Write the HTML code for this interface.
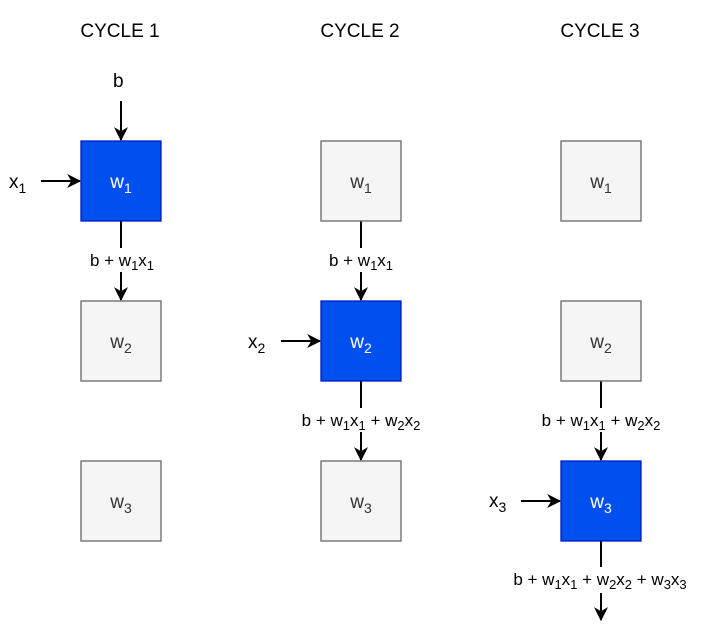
<!DOCTYPE html>
<html><head><meta charset="utf-8"><style>
html,body{margin:0;padding:0;background:#fff}
svg{display:block;font-family:"Liberation Sans",Arial,sans-serif}
</style></head><body>
<svg width="716" height="638" viewBox="0 0 716 638" xmlns="http://www.w3.org/2000/svg">
<defs>
<marker id="a" markerWidth="10" markerHeight="10" refX="9" refY="5" orient="auto" markerUnits="userSpaceOnUse">
<path d="M0,0 L10,5 L0,10 L3,5 Z" fill="#000"/>
</marker>
<marker id="ah" viewBox="0 0 12 12" markerWidth="14" markerHeight="14" refX="11" refY="6" orient="auto" markerUnits="userSpaceOnUse">
<path d="M0,0 L12,6 L0,12 L3.5,6 Z" fill="#000"/>
</marker>
</defs>
<g font-size="19" text-anchor="middle" fill="#000">
<text x="120" y="37">CYCLE 1</text>
<text x="360" y="37">CYCLE 2</text>
<text x="600" y="37">CYCLE 3</text>
</g>
<g stroke="#000" stroke-width="2" fill="none">
<!-- col1 -->
<line x1="121" y1="101" x2="121" y2="140" marker-end="url(#ah)"/>
<line x1="41" y1="181" x2="80" y2="181" marker-end="url(#ah)"/>
<line x1="121" y1="221" x2="121" y2="300" marker-end="url(#ah)"/>
<!-- col2 -->
<line x1="361" y1="221" x2="361" y2="300" marker-end="url(#ah)"/>
<line x1="281" y1="341" x2="320" y2="341" marker-end="url(#ah)"/>
<line x1="361" y1="381" x2="361" y2="460" marker-end="url(#ah)"/>
<!-- col3 -->
<line x1="601" y1="381" x2="601" y2="460" marker-end="url(#ah)"/>
<line x1="521" y1="501" x2="560" y2="501" marker-end="url(#ah)"/>
<line x1="601" y1="541" x2="601" y2="620" marker-end="url(#ah)"/>
</g>
<g stroke="#666" stroke-width="1.3" fill="#f5f5f5">
<rect x="81" y="301" width="80" height="80"/>
<rect x="81" y="461" width="80" height="80"/>
<rect x="321" y="141" width="80" height="80"/>
<rect x="321" y="461" width="80" height="80"/>
<rect x="561" y="141" width="80" height="80"/>
<rect x="561" y="301" width="80" height="80"/>
</g>
<g stroke="#001dbc" stroke-width="1.3" fill="#0050ef">
<rect x="81" y="141" width="80" height="80"/>
<rect x="321" y="301" width="80" height="80"/>
<rect x="561" y="461" width="80" height="80"/>
</g>
<g font-size="19" text-anchor="middle">
<text x="121" y="188" fill="#fff">w<tspan font-size="14" dy="5">1</tspan></text>
<text x="121" y="348" fill="#333">w<tspan font-size="14" dy="5">2</tspan></text>
<text x="121" y="508" fill="#333">w<tspan font-size="14" dy="5">3</tspan></text>
<text x="361" y="188" fill="#333">w<tspan font-size="14" dy="5">1</tspan></text>
<text x="361" y="348" fill="#fff">w<tspan font-size="14" dy="5">2</tspan></text>
<text x="361" y="508" fill="#333">w<tspan font-size="14" dy="5">3</tspan></text>
<text x="601" y="188" fill="#333">w<tspan font-size="14" dy="5">1</tspan></text>
<text x="601" y="348" fill="#333">w<tspan font-size="14" dy="5">2</tspan></text>
<text x="601" y="508" fill="#fff">w<tspan font-size="14" dy="5">3</tspan></text>
</g>
<g font-size="19" fill="#000">
<text x="113" y="87">b</text>
<text x="9" y="188">x<tspan font-size="14" dy="5">1</tspan></text>
<text x="248" y="348">x<tspan font-size="14" dy="5">2</tspan></text>
<text x="489" y="507">x<tspan font-size="14" dy="5">3</tspan></text>
</g>
<g font-size="17" text-anchor="middle" fill="#000">
<rect x="80" y="248" width="84" height="24" fill="#fff"/>
<text x="122" y="266">b + w<tspan font-size="13" dy="4">1</tspan><tspan dy="-4">x</tspan><tspan font-size="13" dy="4">1</tspan></text>
<rect x="318" y="248" width="86" height="24" fill="#fff"/>
<text x="361" y="266">b + w<tspan font-size="13" dy="4">1</tspan><tspan dy="-4">x</tspan><tspan font-size="13" dy="4">1</tspan></text>
<rect x="280" y="408" width="162" height="24" fill="#fff"/>
<text x="361" y="426">b + w<tspan font-size="13" dy="4">1</tspan><tspan dy="-4">x</tspan><tspan font-size="13" dy="4">1</tspan><tspan dy="-4"> + w</tspan><tspan font-size="13" dy="4">2</tspan><tspan dy="-4">x</tspan><tspan font-size="13" dy="4">2</tspan></text>
<rect x="520" y="408" width="162" height="24" fill="#fff"/>
<text x="601" y="426">b + w<tspan font-size="13" dy="4">1</tspan><tspan dy="-4">x</tspan><tspan font-size="13" dy="4">1</tspan><tspan dy="-4"> + w</tspan><tspan font-size="13" dy="4">2</tspan><tspan dy="-4">x</tspan><tspan font-size="13" dy="4">2</tspan></text>
<rect x="484" y="567" width="232" height="26" fill="#fff"/>
<text x="600" y="585">b + w<tspan font-size="13" dy="4">1</tspan><tspan dy="-4">x</tspan><tspan font-size="13" dy="4">1</tspan><tspan dy="-4"> + w</tspan><tspan font-size="13" dy="4">2</tspan><tspan dy="-4">x</tspan><tspan font-size="13" dy="4">2</tspan><tspan dy="-4"> + w</tspan><tspan font-size="13" dy="4">3</tspan><tspan dy="-4">x</tspan><tspan font-size="13" dy="4">3</tspan></text>
</g>
</svg>
</body></html>
